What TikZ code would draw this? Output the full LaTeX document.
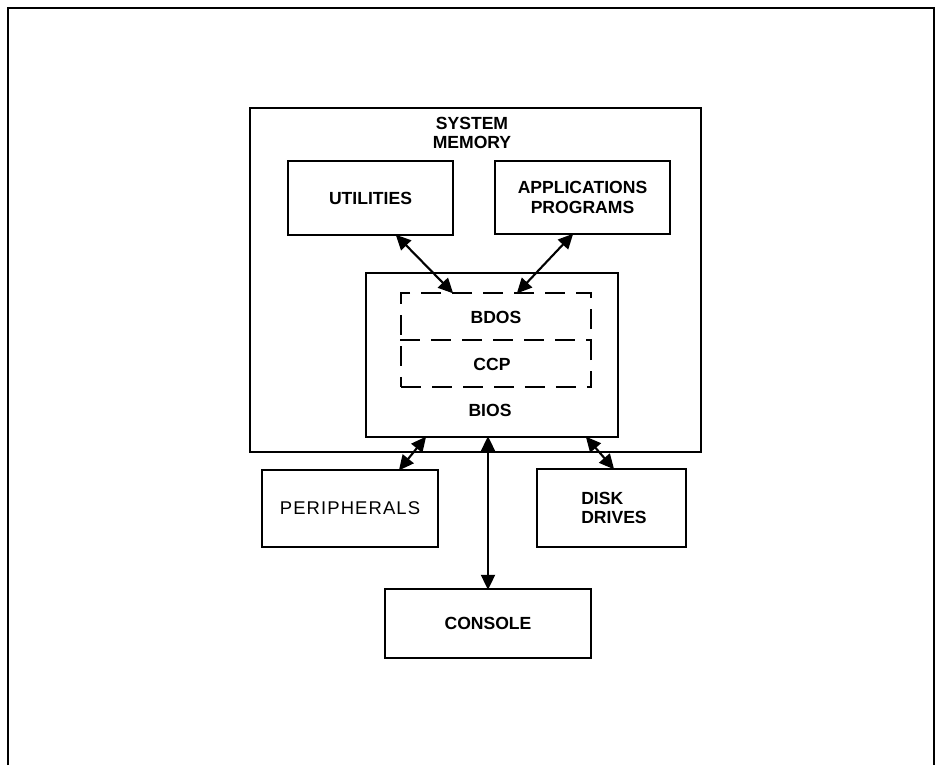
\documentclass[tikz,border=0pt]{standalone}
\usepackage{fontspec}
\setmainfont{Liberation Sans}
\newfontfamily\spacedfont[LetterSpace=6]{Liberation Sans}
\usetikzlibrary{arrows.meta}

\begin{document}
\begin{tikzpicture}[x=0.02cm,y=-0.02cm,
  box/.style={draw, line width=1.1pt, inner sep=0pt, align=center,
    font=\fontsize{10}{11}\selectfont\bfseries},
  lbl/.style={inner sep=0pt, align=center, font=\fontsize{10}{11}\selectfont\bfseries},
  link/.style={line width=1.2pt, {Triangle[length=0.3cm,width=0.28cm]}-{Triangle[length=0.3cm,width=0.28cm]}, shorten <=-1pt, shorten >=-1pt},
  kern/.style={line width=1pt, dash pattern=on 0.4cm off 0.22cm}]
\useasboundingbox (0,0) rectangle (937,765);
% frame, open at the bottom
\draw[line width=0.8pt] (8,765) -- (8,8) -- (934,8) -- (934,765);

% system memory
\node[box, minimum width=9.02cm, minimum height=6.88cm] (sysmem) at (475.5,280) {};
\node[lbl] (sysmemlabel) at (472,133) {SYSTEM\\MEMORY};
\node[box, minimum width=3.3cm, minimum height=1.48cm] (util) at (370.5,198) {UTILITIES};
\node[box, minimum width=3.5cm, minimum height=1.46cm] (apps) at (582.5,197.5) {APPLICATIONS\\PROGRAMS};

\node[box, minimum width=5.04cm, minimum height=3.28cm] (bios) at (492,355) {};
\node[lbl] (bioslabel) at (490,410) {BIOS};
\node[draw, kern, minimum width=3.8cm, minimum height=1.88cm] (kernel) at (496,340) {};
\draw[kern] (kernel.west) -- (kernel.east);
\node[lbl] (bdos) at (496,317) {BDOS};
\node[lbl] (ccp) at (492,364) {CCP};

% devices
\node[box, minimum width=3.52cm, minimum height=1.54cm,
  font=\fontsize{10.5}{12}\spacedfont] (peri) at (350,508.5) {PERIPHERALS};
\node[box, minimum width=2.98cm, minimum height=1.56cm, align=left] (disk) at (611.5,508) {\hspace*{0.1cm}DISK\\\hspace*{0.1cm}DRIVES};
\node[box, minimum width=4.12cm, minimum height=1.38cm] (console) at (488,623.5) {CONSOLE};

\draw[link] ([xshift=0.53cm]util.south) -- ([xshift=-0.88cm]kernel.north);
\draw[link] ([xshift=-0.21cm]apps.south) -- ([xshift=0.44cm]kernel.north);
\draw[link] ([xshift=-1.34cm]bios.south) -- ([xshift=1.0cm]peri.north);
\draw[link] (console.north |- bios.south) -- (console.north);
\draw[link] ([xshift=1.9cm]bios.south) -- ([xshift=0.03cm]disk.north);
\end{tikzpicture}
\end{document}
